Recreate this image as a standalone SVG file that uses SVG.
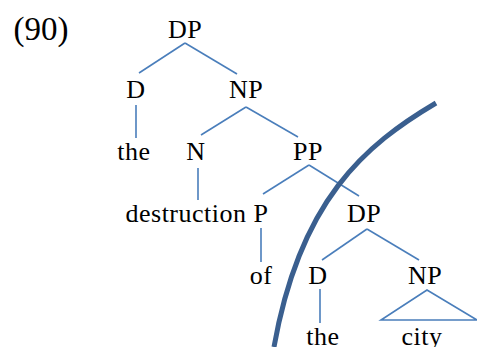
<svg xmlns="http://www.w3.org/2000/svg" width="477" height="347" viewBox="0 0 477 347">
<style>
text{font-family:"Liberation Serif","DejaVu Serif","Times New Roman",serif;font-size:26px;letter-spacing:0.5px;fill:#000;text-anchor:middle}
.e{stroke:#4a7ebb;stroke-width:1.6;fill:none}
.cut{stroke:#3a5f8f;stroke-width:5;fill:none}
</style>
<rect width="477" height="347" fill="#fff"/>
<text x="41" y="40" style="font-size:33px;letter-spacing:0">(90)</text>
<g id="connectors">
<line class="e" x1="185" y1="43" x2="139" y2="73"/>
<line class="e" x1="185" y1="43" x2="237" y2="74"/>
<line class="e" x1="136" y1="105" x2="136" y2="138"/>
<line class="e" x1="246" y1="107" x2="201" y2="135"/>
<line class="e" x1="246" y1="107" x2="298" y2="137"/>
<line class="e" x1="198" y1="168" x2="198" y2="200"/>
<line class="e" x1="309" y1="165" x2="263" y2="194"/>
<line class="e" x1="309" y1="165" x2="359" y2="196"/>
<line class="e" x1="261" y1="228" x2="261" y2="262"/>
<line class="e" x1="367" y1="229" x2="322" y2="260"/>
<line class="e" x1="367" y1="229" x2="419" y2="260"/>
<line class="e" x1="320" y1="289" x2="320" y2="323"/>
<polygon class="e" points="427,290 381,320 477,320"/>
<path class="cut" d="M436,103 C365,145 300,200 274,347"/>
</g>
<g id="DP1"><text x="185" y="38">DP</text></g>
<g id="D1"><text x="136" y="98">D</text></g>
<g id="NP1"><text x="246" y="98">NP</text></g>
<g id="the1"><text x="134" y="160">the</text></g>
<g id="N1"><text x="196" y="160">N</text></g>
<g id="PP1"><text x="308" y="160">PP</text></g>
<g id="destruction"><text x="186" y="222">destruction</text></g>
<g id="P1"><text x="261" y="222">P</text></g>
<g id="DP2"><text x="364" y="222">DP</text></g>
<g id="of"><text x="261" y="284">of</text></g>
<g id="D2"><text x="318" y="284">D</text></g>
<g id="NP2"><text x="425" y="284">NP</text></g>
<g id="the2"><text x="323" y="345">the</text></g>
<g id="city"><text x="422" y="345">city</text></g>
</svg>
